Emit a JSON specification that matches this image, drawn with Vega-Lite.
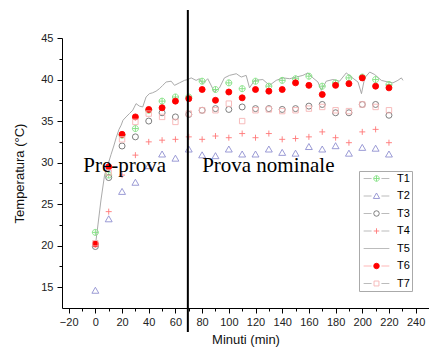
{
  "$schema": "https://vega.github.io/schema/vega-lite/v6.json",
  "width": 367,
  "height": 270,
  "autosize": {"type": "none"},
  "padding": {"left": 62, "top": 38, "right": 0, "bottom": 41},
  "config": {
    "view": {"stroke": null},
    "font": "Liberation Sans",
    "axis": {"grid": false, "domainColor": "#000", "tickColor": "#000", "labelFont": "Liberation Sans", "titleFont": "Liberation Sans", "labelColor": "#222", "titleColor": "#111", "titleFontWeight": "normal"}
  },
  "datasets": {
    "pts": [
      {"s":"T1","t":0,"v":21.6},{"s":"T1","t":10,"v":28.5},{"s":"T1","t":20,"v":33.3},{"s":"T1","t":30,"v":34.1},{"s":"T1","t":40,"v":36.3},{"s":"T1","t":50,"v":37.4},{"s":"T1","t":60,"v":37.9},{"s":"T1","t":70,"v":37.9},{"s":"T1","t":80,"v":39.8},{"s":"T1","t":90,"v":38.8},{"s":"T1","t":100,"v":39.6},{"s":"T1","t":110,"v":38.9},{"s":"T1","t":120,"v":39.8},{"s":"T1","t":130,"v":39.2},{"s":"T1","t":140,"v":39.9},{"s":"T1","t":150,"v":40.1},{"s":"T1","t":160,"v":40.4},{"s":"T1","t":170,"v":39.2},{"s":"T1","t":180,"v":39.6},{"s":"T1","t":190,"v":40.2},{"s":"T1","t":200,"v":40.3},{"s":"T1","t":210,"v":40.0},{"s":"T1","t":220,"v":39.4},
      {"s":"T2","t":0,"v":14.6},{"s":"T2","t":10,"v":23.2},{"s":"T2","t":20,"v":26.5},{"s":"T2","t":30,"v":27.6},{"s":"T2","t":40,"v":29.6},{"s":"T2","t":50,"v":31.0},{"s":"T2","t":60,"v":30.5},{"s":"T2","t":70,"v":31.6},{"s":"T2","t":80,"v":30.9},{"s":"T2","t":90,"v":30.8},{"s":"T2","t":100,"v":31.6},{"s":"T2","t":110,"v":31.0},{"s":"T2","t":120,"v":31.0},{"s":"T2","t":130,"v":31.6},{"s":"T2","t":140,"v":31.2},{"s":"T2","t":150,"v":31.1},{"s":"T2","t":160,"v":31.9},{"s":"T2","t":170,"v":31.6},{"s":"T2","t":180,"v":32.0},{"s":"T2","t":190,"v":31.1},{"s":"T2","t":200,"v":31.8},{"s":"T2","t":210,"v":31.7},{"s":"T2","t":220,"v":31.0},
      {"s":"T3","t":0,"v":19.9},{"s":"T3","t":10,"v":28.2},{"s":"T3","t":20,"v":32.0},{"s":"T3","t":30,"v":33.1},{"s":"T3","t":40,"v":35.0},{"s":"T3","t":50,"v":36.0},{"s":"T3","t":60,"v":35.5},{"s":"T3","t":70,"v":35.8},{"s":"T3","t":80,"v":36.3},{"s":"T3","t":90,"v":36.5},{"s":"T3","t":100,"v":36.4},{"s":"T3","t":110,"v":36.7},{"s":"T3","t":120,"v":36.5},{"s":"T3","t":130,"v":36.5},{"s":"T3","t":140,"v":36.4},{"s":"T3","t":150,"v":36.5},{"s":"T3","t":160,"v":36.8},{"s":"T3","t":170,"v":37.0},{"s":"T3","t":180,"v":36.0},{"s":"T3","t":190,"v":36.0},{"s":"T3","t":200,"v":37.0},{"s":"T3","t":210,"v":37.0},{"s":"T3","t":220,"v":35.7},
      {"s":"T4","t":0,"v":20.3},{"s":"T4","t":10,"v":24.1},{"s":"T4","t":20,"v":28.5},{"s":"T4","t":30,"v":30.9},{"s":"T4","t":40,"v":32.5},{"s":"T4","t":50,"v":32.7},{"s":"T4","t":60,"v":32.8},{"s":"T4","t":70,"v":33.1},{"s":"T4","t":80,"v":32.8},{"s":"T4","t":90,"v":33.2},{"s":"T4","t":100,"v":33.0},{"s":"T4","t":110,"v":33.5},{"s":"T4","t":120,"v":33.0},{"s":"T4","t":130,"v":33.5},{"s":"T4","t":140,"v":32.8},{"s":"T4","t":150,"v":32.9},{"s":"T4","t":160,"v":33.1},{"s":"T4","t":170,"v":33.7},{"s":"T4","t":180,"v":33.0},{"s":"T4","t":190,"v":32.4},{"s":"T4","t":200,"v":33.7},{"s":"T4","t":210,"v":34.0},{"s":"T4","t":220,"v":32.4},
      {"s":"T6","t":0,"v":20.2},{"s":"T6","t":10,"v":29.5},{"s":"T6","t":20,"v":33.4},{"s":"T6","t":30,"v":35.5},{"s":"T6","t":40,"v":36.4},{"s":"T6","t":50,"v":36.6},{"s":"T6","t":60,"v":37.4},{"s":"T6","t":70,"v":37.7},{"s":"T6","t":80,"v":38.8},{"s":"T6","t":90,"v":37.5},{"s":"T6","t":100,"v":38.5},{"s":"T6","t":110,"v":37.8},{"s":"T6","t":120,"v":38.8},{"s":"T6","t":130,"v":38.6},{"s":"T6","t":140,"v":38.8},{"s":"T6","t":150,"v":39.6},{"s":"T6","t":160,"v":39.3},{"s":"T6","t":170,"v":38.2},{"s":"T6","t":180,"v":39.3},{"s":"T6","t":190,"v":39.5},{"s":"T6","t":200,"v":40.2},{"s":"T6","t":210,"v":39.2},{"s":"T6","t":220,"v":39.0},
      {"s":"T7","t":0,"v":20.3},{"s":"T7","t":10,"v":28.8},{"s":"T7","t":20,"v":32.8},{"s":"T7","t":30,"v":34.9},{"s":"T7","t":40,"v":35.9},{"s":"T7","t":50,"v":35.5},{"s":"T7","t":60,"v":34.9},{"s":"T7","t":70,"v":35.9},{"s":"T7","t":80,"v":36.3},{"s":"T7","t":90,"v":36.3},{"s":"T7","t":100,"v":37.1},{"s":"T7","t":110,"v":35.0},{"s":"T7","t":120,"v":36.3},{"s":"T7","t":130,"v":36.4},{"s":"T7","t":140,"v":36.2},{"s":"T7","t":150,"v":36.3},{"s":"T7","t":160,"v":36.5},{"s":"T7","t":170,"v":36.7},{"s":"T7","t":180,"v":36.3},{"s":"T7","t":190,"v":36.2},{"s":"T7","t":200,"v":37.0},{"s":"T7","t":210,"v":36.7},{"s":"T7","t":220,"v":36.3}
    ],
    "line": [
      {"t":0,"v":20.0},{"t":2,"v":22.6},{"t":4.2,"v":25.5},{"t":6.9,"v":28.5},{"t":9.9,"v":30.0},{"t":11.8,"v":31.0},{"t":13.8,"v":32.0},{"t":15.6,"v":33.0},{"t":17.7,"v":34.0},{"t":19.3,"v":34.5},{"t":20.7,"v":35.1},{"t":23,"v":35.5},{"t":25.5,"v":35.9},{"t":28,"v":36.3},{"t":30.5,"v":37.1},{"t":33,"v":36.8},{"t":35.5,"v":36.7},{"t":38,"v":37.9},{"t":40.5,"v":38.3},{"t":42.8,"v":38.4},{"t":45.5,"v":38.6},{"t":48,"v":38.9},{"t":50.5,"v":39.3},{"t":53,"v":39.7},{"t":56.8,"v":39.8},{"t":59.3,"v":39.3},{"t":63,"v":39.6},{"t":66.8,"v":39.9},{"t":69.2,"v":40.0},{"t":71.8,"v":40.2},{"t":75.5,"v":39.9},{"t":78,"v":40.1},{"t":80.5,"v":39.5},{"t":84.2,"v":40.1},{"t":88,"v":38.9},{"t":89.2,"v":38.5},{"t":93,"v":39.0},{"t":96.7,"v":40.2},{"t":100.5,"v":40.5},{"t":105.6,"v":40.7},{"t":109.3,"v":40.3},{"t":113,"v":40.5},{"t":115.5,"v":39.0},{"t":119.3,"v":39.9},{"t":125.5,"v":40.0},{"t":130.5,"v":39.3},{"t":135.5,"v":39.9},{"t":140.6,"v":40.2},{"t":145.6,"v":40.1},{"t":150.6,"v":40.3},{"t":155.5,"v":40.5},{"t":159.3,"v":40.8},{"t":163,"v":40.2},{"t":166.8,"v":39.7},{"t":169.3,"v":38.7},{"t":173,"v":39.8},{"t":178,"v":40.0},{"t":183,"v":39.8},{"t":188,"v":40.8},{"t":191.8,"v":40.3},{"t":196.8,"v":39.7},{"t":199.4,"v":38.3},{"t":201.8,"v":40.2},{"t":205.6,"v":40.9},{"t":209.3,"v":40.6},{"t":214.3,"v":39.9},{"t":219.3,"v":39.7},{"t":223,"v":39.6},{"t":226.7,"v":39.9},{"t":229.3,"v":40.2},{"t":230.5,"v":39.9}
    ]
  },
  "layer": [
    {
      "data": {"name": "line"},
      "mark": {"type": "line", "stroke": "#a0a0a0", "strokeWidth": 0.9},
      "encoding": {
        "x": {"field": "t", "type": "quantitative", "scale": {"domain": [-25, 250], "nice": false, "zero": false},
          "axis": {"orient": "bottom", "title": "Minuti (min)", "values": [-20,0,20,40,60,80,100,120,140,160,180,200,220,240], "format": "d", "tickSize": 5, "labelFontSize": 11, "labelPadding": 3, "labelFlush": false, "labelOverlap": false, "titleFontSize": 13, "titlePadding": 6}},
        "y": {"field": "v", "type": "quantitative", "scale": {"domain": [12.5, 45], "nice": false, "zero": false},
          "axis": {"orient": "left", "title": "Temperatura (°C)", "values": [15,20,25,30,35,40,45], "tickSize": 5, "labelFontSize": 11, "labelPadding": 4, "labelFlush": false, "labelOverlap": false, "titleFontSize": 13, "titlePadding": 14}}
      }
    },
    {
      "data": {"name": "pts"},
      "mark": {"type": "point", "size": 36, "strokeWidth": 0.9, "opacity": 1},
      "encoding": {
        "x": {"field": "t", "type": "quantitative", "axis": {"orient": "bottom", "title": null, "values": [-10,10,30,50,70,90,110,130,150,170,190,210,230], "labels": false, "domain": false, "tickSize": 3}},
        "y": {"field": "v", "type": "quantitative", "axis": {"orient": "left", "title": null, "values": [17.5,22.5,27.5,32.5,37.5,42.5], "labels": false, "domain": false, "tickSize": 3}},
        "shape": {"field": "s", "type": "nominal",
          "scale": {"domain": ["T1","T2","T3","T4","T5","T6","T7"], "range": ["M-1,0A1,1,0,1,1,1,0A1,1,0,1,1,-1,0ZM-1,0H1M0,-1V1", "M0,-1.1L1.15,0.9H-1.15Z", "circle", "M-1,0H1M0,-1V1", "circle", "circle", "M-0.9,-0.9H0.9V0.9H-0.9Z"]},
          "legend": {"orient": "none", "legendX": 297, "legendY": 133, "title": null, "symbolSize": 30, "symbolStrokeWidth": 0.9, "labelFontSize": 11, "labelColor": "#000", "rowPadding": 5.5, "padding": 2, "strokeColor": "#aaaaaa", "symbolOffset": 10, "labelOffset": 15, "labelLimit": 0}},
        "stroke": {"field": "s", "type": "nominal",
          "scale": {"domain": ["T1","T2","T3","T4","T5","T6","T7"], "range": ["#80e080", "#9090d0", "#707070", "#ff7878", "transparent", "#ff0000", "#f6b4b4"]},
          "legend": {"orient": "none", "legendX": 297, "legendY": 133, "title": null, "symbolSize": 30, "symbolStrokeWidth": 0.9, "labelFontSize": 11, "labelColor": "#000", "rowPadding": 5.5, "padding": 2, "strokeColor": "#aaaaaa", "symbolOffset": 10, "labelOffset": 15, "labelLimit": 0}},
        "fill": {"field": "s", "type": "nominal",
          "scale": {"domain": ["T1","T2","T3","T4","T5","T6","T7"], "range": ["transparent", "transparent", "transparent", "transparent", "transparent", "#ff0000", "transparent"]},
          "legend": {"orient": "none", "legendX": 297, "legendY": 133, "title": null, "symbolSize": 30, "symbolStrokeWidth": 0.9, "labelFontSize": 11, "labelColor": "#000", "rowPadding": 5.5, "padding": 2, "strokeColor": "#aaaaaa", "symbolOffset": 10, "labelOffset": 15, "labelLimit": 0}}
      }
    },
    {
      "data": {"name": "pts"},
      "mark": {"type": "point", "size": 0, "strokeWidth": 1},
      "encoding": {
        "x": {"field": "t", "type": "quantitative", "axis": null},
        "y": {"field": "v", "type": "quantitative", "axis": null},
        "shape": {"field": "s", "type": "nominal",
          "scale": {"domain": ["T1","T2","T3","T4","T5","T6","T7"], "range": ["M-4.7,0H-1.8M1.8,0H4.7", "M-4.7,0H-1.8M1.8,0H4.7", "M-4.7,0H-1.8M1.8,0H4.7", "M-4.7,0H-1.8M1.8,0H4.7", "M-4.7,0H4.7", "M-4.7,0H-1.8M1.8,0H4.7", "M-4.7,0H-1.8M1.8,0H4.7"]},
          "legend": {"orient": "none", "legendX": 297, "legendY": 133, "title": null, "symbolSize": 30, "symbolStrokeWidth": 1, "labelFontSize": 11, "labelColor": "transparent", "rowPadding": 5.5, "padding": 2, "strokeColor": null, "symbolOffset": 10, "labelOffset": 15, "labelLimit": 0}},
        "stroke": {"field": "s", "type": "nominal",
          "scale": {"domain": ["T1","T2","T3","T4","T5","T6","T7"], "range": ["#a0a0a0", "#a0a0a0", "#a0a0a0", "#a0a0a0", "#a0a0a0", "#ff9a9a", "#a0a0a0"]},
          "legend": {"orient": "none", "legendX": 297, "legendY": 133, "title": null, "symbolSize": 30, "symbolStrokeWidth": 1, "labelFontSize": 11, "labelColor": "transparent", "rowPadding": 5.5, "padding": 2, "strokeColor": null, "symbolOffset": 10, "labelOffset": 15, "labelLimit": 0}}
      }
    },
    {
      "data": {"values": [{}]},
      "mark": {"type": "rule", "color": "#000000", "strokeWidth": 2},
      "encoding": {
        "x": {"datum": 69.3, "type": "quantitative", "axis": null},
        "y": {"datum": 48.37, "type": "quantitative", "axis": null},
        "y2": {"datum": 9.61}
      }
    },
    {
      "data": {"values": [{}]},
      "mark": {"type": "text", "font": "Liberation Serif", "fontSize": 21, "align": "left", "baseline": "alphabetic", "color": "#000000"},
      "encoding": {
        "x": {"datum": -9, "type": "quantitative", "axis": null},
        "y": {"datum": 28.91, "type": "quantitative", "axis": null},
        "text": {"value": "Pre-prova"}
      }
    },
    {
      "data": {"values": [{}]},
      "mark": {"type": "text", "font": "Liberation Serif", "fontSize": 21, "align": "left", "baseline": "alphabetic", "color": "#000000"},
      "encoding": {
        "x": {"datum": 80, "type": "quantitative", "axis": null},
        "y": {"datum": 28.91, "type": "quantitative", "axis": null},
        "text": {"value": "Prova nominale"}
      }
    }
  ],
  "resolve": {
    "axis": {"x": "independent", "y": "independent"},
    "scale": {"shape": "independent", "stroke": "independent", "fill": "independent"}
  }
}
